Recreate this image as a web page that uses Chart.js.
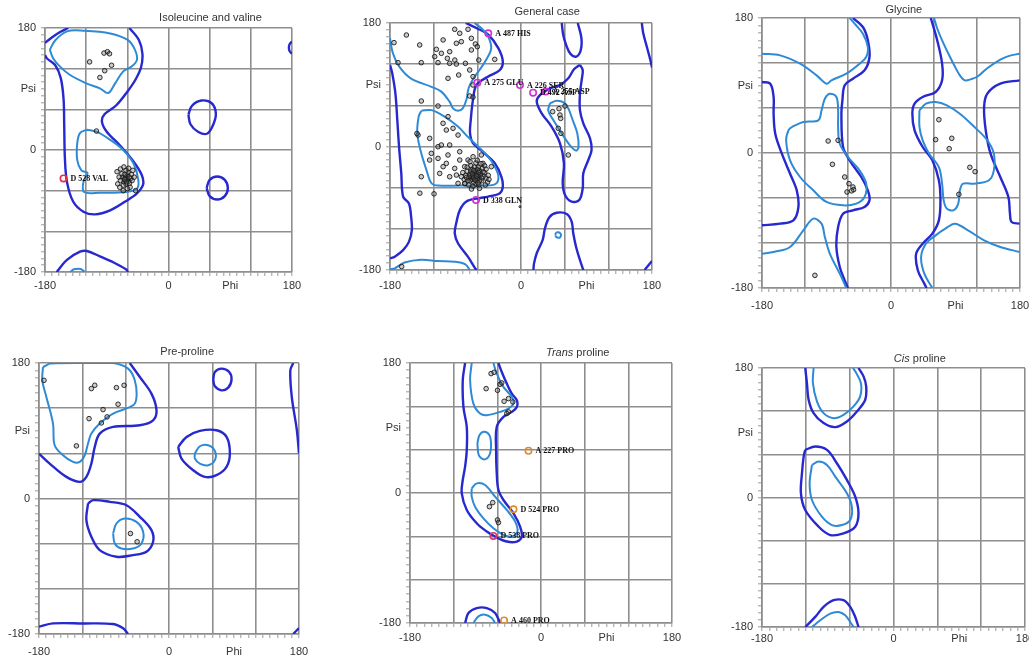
<!DOCTYPE html>
<html><head><meta charset="utf-8">
<script src="https://cdn.jsdelivr.net/npm/chart.js@4.4.1/dist/chart.umd.min.js"></script>
<style>
html,body{margin:0;padding:0;background:#fff;overflow:hidden;width:1029px;height:658px;}
canvas{position:absolute;}
</style></head><body>
<script>
// ---------- axis ticks ----------
const tickValues = [-180,-170,-160,-150,-140,-130,-120,-110,-100,-90,-80,-70,-60,-50,-40,-30,-20,-10,0,10,20,30,40,50,60,70,80,90,100,110,120,130,140,150,160,170,180];
const xLabelValues = [-180, 0, 90, 180];
const xLabelTexts = ['-180', '0', 'Phi', '180'];
const yLabelValues = [180, 90, 0, -180];
const yLabelTexts = ['180', 'Psi', '0', '-180'];
const panelTitles = ['Isoleucine and valine', 'General case', 'Glycine', 'Pre-proline', 'Trans proline', 'Cis proline'];

// ---------- Panel 1: Isoleucine and valine ----------
const ileOuterMain = [[-180,140],[-177,135],[-165,125],[-157,106],[-153,76],[-152,37],[-151,-12],[-148,-47],[-139,-76],[-124,-91],[-107,-95],[-85,-89],[-63,-76],[-46,-64],[-37,-51],[-39,-37],[-51,-17],[-71,7],[-90,27],[-97,42],[-93,53],[-76,66],[-60,86],[-48,104],[-40,122],[-38,142],[-43,162],[-57,180]];
const ileOuterCorner = [[-146,180],[-158,174],[-170,166],[-180,158]];
const ileOuterEdge = [[180,160],[176.5,156],[175.5,151],[176.5,146],[180,142]];
const ileOuterLoopA = [[29,52],[34,65],[48,73],[63,69],[69,54],[65,37],[56,24],[43,27],[32,38],[29,52]];
const ileOuterLoopB = [[55.5,-56],[60,-44],[71,-39],[82,-44],[86.5,-56],[82,-68],[71,-73],[60,-68],[55.5,-56]];
const ileOuterBottom = [[-163,-180],[-148,-162],[-129,-150],[-119,-149],[-100,-157],[-80,-166],[-62,-176],[-59,-180]];
const ileInnerTop = [[-173,148],[-165,162],[-148,175],[-124,176],[-85,172],[-59,162],[-49,148],[-46,133],[-54,123],[-66,116],[-78,98],[-88,84],[-100,91],[-119,98],[-144,111],[-158,123],[-168,135],[-173,148]];
const ileInnerMid = [[-119,30],[-129,25],[-133,10],[-133,-15],[-127,-30],[-118,-34],[-124,-47],[-123,-62],[-100,-63],[-61,-62],[-46,-57],[-44,-44],[-51,-20],[-66,0],[-85,15],[-105,27],[-119,30]];
const ileInnerBottom = [[-143,-180],[-138,-176],[-128,-175.5],[-122,-180]];
const ilePoints = [[-115,130],[-100,107],[-93,117],[-83,125],[-94,143],[-89,145],[-86,142],[-105,28],
 [-61,-44],[-63,-41],[-58,-46],[-65,-47],[-60,-38],[-55,-42],[-67,-40],[-62,-50],[-57,-49],[-64,-36],[-70,-45],[-53,-45],[-59,-33],[-68,-35],[-66,-52],[-56,-55],[-72,-40],[-50,-40],[-62,-30],[-54,-36],[-75,-32],[-70,-28],[-65,-25],[-58,-27],[-52,-30],[-48,-60],[-66,-60],[-60,-57],[-74,-50],[-71,-55],[-63,-44],[-60,-42],[-61,-47],[-57,-40],[-64,-43]];
const ileOutliers = [[-153,-42]];
const ileOutlierNames = ['D 528 VAL'];

// ---------- Panel 2: General case ----------
const genOuterLeft = [[-180,119],[-177,107],[-172.6,77.5],[-170,39],[-167.6,0],[-164.5,-39],[-162,-73],[-154,-83],[-151,-102],[-150,-122],[-154,-139],[-162,-151],[-173.5,-160.6],[-180,-163]];
const genOuterRight = [[-76,180],[-60,172],[-45,163],[-31,143],[-25,124],[-29,111.5],[-45,102],[-61,90],[-66,68],[-69,39],[-70,19],[-66,5],[-50,-10],[-36,-24.5],[-27,-44],[-25,-58.6],[-29,-68],[-45,-73],[-59,-75.5],[-75,-80],[-84,-92.5],[-89,-112],[-91,-126.5],[-86.6,-141],[-73,-160.6],[-63,-177.5],[-61,-180]];
const genOuterLoopR = [[81,119],[72.8,112.5],[65,99.4],[53.6,89.6],[39.8,84.8],[26,75],[21.6,65.3],[28.4,48.4],[42,29],[53.6,4.7],[59,-24.5],[57.3,-53.6],[60.5,-70.7],[69.6,-80.5],[80,-78],[84.8,-61],[85.6,-39],[92.5,-19.7],[97,-5],[94.8,12],[85.6,33.8],[81,53],[81,77.5],[83.4,97],[84.8,111.5],[81,119]];
const genOuterTopR = [[56,180],[58,163],[62,148],[68,135],[76,131],[82,140],[83,158],[78,180]];
const genOuterEdgeTop = [[166,180],[168,165],[173,145],[178,125],[180,115]];
const genOuterEdgeBottom = [[170,-180],[176,-172],[180,-167]];
const genOuterLowR = [[17,-180],[18,-170],[21.6,-155.6],[29.8,-136],[33,-119],[39,-103],[49,-96.5],[62.8,-98.4],[69.6,-109.6],[71.8,-126.5],[75.6,-146],[81,-165.4],[85.6,-180]];
const genInnerTop = [[-180,158],[-176,136],[-167,116],[-151,99],[-123,87],[-109.5,80],[-98,65],[-93.4,55.6],[-86.6,52],[-80,55.6],[-75,68],[-72,85],[-66,98],[-57,111.5],[-48,126],[-41,143],[-45,160],[-54,172],[-64,180]];
const genInnerLow = [[-137,52],[-123,53],[-105,43.5],[-86.6,29],[-73,14],[-59,0],[-45,-15],[-36,-29.5],[-31,-44],[-35,-54.7],[-50,-57],[-82,-57],[-114,-57],[-123,-53.6],[-130,-34],[-137,-10],[-142.5,19],[-140.6,43.5],[-137,52]];
const genInnerBottom = [[-180,-179],[-173.5,-177.5],[-160,-169],[-137,-165],[-114,-167],[-91,-168],[-76.5,-171.7],[-70.5,-180]];
const genInnerR = [[39.8,63],[37.5,52],[44.4,38.6],[56,19],[67,2],[75.6,-6],[79,-1],[77.4,19],[71,38.6],[65,55.6],[59,64],[49,66.5],[39.8,63]];
const genInnerSmall = [[47,-129],[48.5,-125.5],[51,-125],[53.5,-126],[55,-129],[53.5,-132.5],[51,-133],[48.5,-132],[47,-129]];
const genPoints = [[-157.5,162.5],[-174.5,151.4],[-139.2,148],[-169,122.2],[-137,122.2],[-116.3,141.6],[-118.6,131],[-109.4,135.8],[-98,138.2],[-101.2,128.5],[-88.8,150.4],[-82,152.8],[-84.2,165],[-91.1,170.8],[-72.8,170.8],[-68.2,140.7],[-62.7,149.4],[-60,145.5],[-68.2,157.7],[-107,155.3],[-114,122.2],[-98,121.2],[-91,126],[-88.8,120.2],[-76.4,121.2],[-58,126],[-100.3,99.4],[-85.6,104.2],[-65.9,101.8],[-70.5,111.5],[-137,66.3],[-114,59],[-70.5,73.6],[-36.1,127],[-66,89.6],
 [-100.3,43.5],[-107.1,33.8],[-102.6,24],[-93.4,26.5],[-86.5,16.7],[-141.5,16.7],[-125.5,11.9],[-114,-0.3],[-109.4,2.2],[-98,2.2],[-123.2,-10],[-100.3,-12.4],[-114,-17.3],[-84.2,-7.6],[-102.6,-24.6],[-91.1,-31.9],[-98,-44],[-88.8,-41.6],[-86.5,-53.7],[-77.4,-53.7],[-84.2,-19.7],[-72.8,-19.7],[-65.9,-14.9],[-77.4,-29.4],[-54.5,-12.4],[-52.2,-24.6],[-40.8,-29.4],[-137,-44],[-111.7,-39.2],[-107,-29.4],[-125.5,-19.7],
 [-63,-40],[-60,-42],[-66,-38],[-58,-45],[-68,-44],[-62,-36],[-55,-40],[-70,-40],[-64,-47],[-57,-35],[-61,-50],[-67,-33],[-72,-46],[-52,-44],[-59,-30],[-65,-52],[-74,-36],[-54,-50],[-69,-28],[-50,-38],[-62,-44],[-64,-41],[-61,-39],[-66,-43],[-59,-41],[-63,-37],[-60,-47],[-67,-48],[-56,-42],[-70,-50],[-76,-42],[-48,-46],[-62,-55],[-58,-56],[-72,-56],[-53,-32],[-64,-30],[-78,-48],[-46,-52],[-66,-58],[-55,-25],[-62,-24],[-70,-22],[-50,-28],[-45,-42],[-80,-38],[-74,-30],[-57,-61],[-68,-62],[-77,-54],[-49,-56],[-60,-34],[-65,-45],[-58,-38],[-69,-36],[-54,-46],[-71,-43],[-63,-49],[-61,-43],[-57,-50],[-73,-50],[-65,-35],[-67,-40],[-59,-53],[-52,-37],[-75,-45],[-60,-20],[-48,-33],[-44,-48],[-82,-44],
 [-139,-68],[-119.5,-69],[-164,-175],[-143,19],[-66,72],
 [43.5,50.8],[52.2,55.1],[53.5,45.9],[54.5,41],[60.4,59],[51.2,26.5],[54.9,19.2],[65,-12.4]];
const genTinyPoints = [[-1.4,-87.7]];
const genOutliers = [[-45,165],[-60,93],[-1.4,89.6],[16.6,78.4],[34,80],[-61.8,-78]];
const genOutlierNames = ['A 487 HIS','A 275 GLU','A 226 SER','D 492 ASP','A 255 ASP','D 338 GLN'];

// ---------- Panel 3: Glycine ----------
const glyLightA = [[-180,132.4],[-154.6,130.2],[-126.9,119.1],[-103.8,103.5],[-90,92.4],[-83.1,96.9],[-62.3,105.8],[-43.9,119.1],[-34.6,128],[-32.3,141.3],[-39.2,159.1],[-50.8,172.4],[-57.7,180]];
const glyDarkA = [[-53.1,180],[-39.2,168],[-32.3,150.2],[-30,128],[-36.9,110.2],[-53.1,99.1],[-64.6,90.2],[-67.8,70.2],[-69.2,52.4],[-66.9,8],[-57.7,-9.8],[-41.5,-32],[-32.3,-49.8],[-30,-63.1],[-36.9,-72],[-53.1,-76.4],[-66.9,-80.9],[-73.8,-98.7],[-76.2,-125.3],[-71.5,-152],[-64.6,-169.8],[-60,-180]];
const glyLightB = [[-138.5,34.7],[-122.3,41.3],[-101.5,43.6],[-96.9,56.9],[-92.3,72.4],[-85.4,79.1],[-76.2,74.7],[-73.8,56.9],[-73.8,34.7],[-71.5,12.4],[-60,-5.3],[-43.9,-23.1],[-34.6,-40.9],[-36.9,-58.7],[-48.5,-67.5],[-66.9,-69.8],[-90,-65.3],[-108.5,-49.8],[-126.9,-32],[-140.8,-9.8],[-146.3,16.9],[-143.1,30.2],[-138.5,34.7]];
const glyDarkB = [[-180,94.7],[-168.5,92.4],[-163.8,74.7],[-163.8,52.4],[-161.5,25.8],[-152.3,-0.9],[-140.8,-27.6],[-131.5,-49.8],[-129.2,-72],[-136.2,-89.8],[-154.6,-94.2],[-180,-96.4]];
const glyLightC = [[-180,-134.2],[-163.8,-132],[-140.8,-125.3],[-122.3,-103.1],[-108.5,-87.5],[-96.9,-94.2],[-92.3,-112],[-85.4,-134.2],[-71.5,-160.9],[-62.3,-180]];
const glyLightD = [[60,180],[64.5,166],[71.3,150.2],[80.3,132],[89.3,115],[96.1,103.5],[102.9,96.9],[111.9,98.5],[120.9,102],[134.4,113],[152.5,124.5],[165,129.5],[179.5,132.4]];
const glyDarkC = [[55.5,180],[64.5,150.2],[71.3,119.1],[71.3,96.9],[62.3,81.3],[44.2,74.7],[32.9,65.8],[29.8,52.4],[32.9,30.2],[44.2,8],[57.7,-9.8],[66.8,-36.4],[69,-63.1],[66.8,-89.8],[57.7,-107.5],[44.2,-120.9],[35.1,-134.2],[37.4,-156.4],[46.5,-174.2],[49.6,-180]];
const glyLightE = [[39.7,56.9],[48.7,65.8],[62.3,68],[78,63.6],[96.1,52.4],[116.4,34.7],[134.4,16.9],[143.5,-0.9],[143.5,-23.1],[136.7,-36.4],[116.4,-40.9],[100.6,-40.9],[96.1,-49.8],[93.8,-67.5],[87.1,-76.4],[78,-74.2],[73.5,-63.1],[71.3,-40.9],[66.8,-18.7],[53.2,-0.9],[44.2,16.9],[39.7,34.7],[39.7,56.9]];
const glyDarkD = [[179.5,96.9],[152.5,92.4],[134.4,79.1],[129.9,61.3],[132.2,30.2],[138.9,-0.9],[152.5,-32],[163.8,-58.7],[166,-80.9],[168.3,-92],[179.5,-94.2]];
const glyLightF = [[57.7,-180],[46.5,-160.9],[42,-138.7],[48.7,-120.9],[62.3,-109.8],[75.8,-100.9],[89.3,-94.2],[107.4,-103.1],[129.9,-116.4],[152.5,-125.3],[179.5,-132]];
const glyPoints = [[-87.7,16],[-73.8,16.9],[-81.7,-15.1],[-64.6,-32],[-58.6,-40.9],[-53.1,-45.3],[-52.2,-48.9],[-61.4,-52],[-55,-50.5],[-106.2,-163.1],[66.8,44.4],[62.3,17.8],[84.8,19.6],[81.2,5.8],[110,-19.1],[117.3,-24.9],[94.7,-55.1]];

// ---------- Panel 4: Pre-proline ----------
const preLightA = [[-174.5,174.7],[-162.9,179.5],[-119,180],[-77.4,180],[-56.6,172.5],[-47.4,157],[-45,134.9],[-49.7,123.8],[-77.4,112.8],[-95.9,99.5],[-107.5,86.2],[-112.1,73],[-116.7,57.5],[-123.6,48.6],[-132.9,48.6],[-146.7,57.5],[-158.3,70.8],[-160.6,99.5],[-169.8,134.9],[-175.4,157],[-174.5,174.7]];
const preDarkA = [[-54.3,180],[-40.4,161.4],[-24.3,139.3],[-17.3,117.2],[-22,103.9],[-40.4,97.3],[-77.4,95.1],[-95.9,86.2],[-102.8,68.5],[-107.5,46.4],[-114.4,28.7],[-123.6,22.1],[-142.1,28.7],[-165.2,46.4],[-180,59.7]];
const preDarkEdge = [[172,180],[168,170],[170,135],[177,91],[180,60]];
const preDarkCorner = [[172,-180],[180,-172]];
const preDarkBottom = [[-180,-170.3],[-160.6,-165.9],[-119,-166],[-77.4,-166.8],[-63.5,-172.5],[-56.6,-180]];
const preDarkMid = [[-112.1,-6.6],[-105.1,-2.2],[-82,-4.4],[-58.9,-8.9],[-40.4,-24.3],[-24.3,-42],[-22,-57.5],[-31.2,-70.8],[-49.7,-75.2],[-72.8,-77.4],[-95.9,-68.6],[-107.5,-50.9],[-114.4,-28.8],[-112.1,-6.6]];
const preLightMid = [[-77.4,-46.5],[-72.8,-33.2],[-61.2,-26.5],[-45.1,-31],[-35.8,-44.2],[-38.1,-59.7],[-49.7,-66.4],[-65.9,-66.4],[-75.1,-59.7],[-77.4,-46.5]];
const preDarkRight = [[12.7,68.5],[24.3,81.8],[42.7,89.8],[65.8,90.7],[79.7,81.8],[84.3,59.7],[79.7,42],[65.8,31],[49.7,28.7],[33.5,37.6],[17.3,53.1],[12.7,68.5]];
const preLightRight = [[35.8,59.7],[42.7,69.4],[54.3,70.8],[63.5,63.2],[63.5,50.9],[54.3,44.2],[42.7,46.4],[35.8,53.1],[35.8,59.7]];
const preDarkSmall = [[61.2,157.9],[63.5,168.1],[72.8,172.5],[83.4,168.1],[86.6,157.9],[82,147.3],[72.8,143.7],[63.5,149],[61.2,157.9]];
const prePoints = [[-173.1,157],[-107.5,146],[-102.8,150.4],[-72.8,147.3],[-62.2,150.4],[-70.5,125.2],[-91.3,118.1],[-85.7,108.4],[-110.7,106.1],[-93.6,100.4],[-128.2,69.9],[-53.4,-46.5],[-44.1,-57.5]];

// ---------- Panel 5: Trans proline ----------
const transDark = [[-104.3,180],[-107.5,156.1],[-106.6,119.2],[-102,91.6],[-102,59.4],[-104.3,36.4],[-107.5,18],[-108.9,-0.5],[-102,-23.5],[-88.3,-41.9],[-74.5,-53.4],[-63.1,-60.3],[-47,-67.2],[-33.2,-67.2],[-26.4,-60.3],[-28.7,-46.5],[-37.8,-28.1],[-51.6,-9.7],[-58.5,4.1],[-60.8,27.1],[-61.7,59.4],[-60.8,91.6],[-51.6,105.4],[-40.1,112.3],[-33.2,119.2],[-33.2,128.4],[-40.1,137.6],[-47,151.5],[-53.9,167.6],[-58.5,180]];
const transLightTop = [[-95.2,180],[-97.4,156.1],[-92.9,123.8],[-83.7,110],[-74.5,107.7],[-56.2,112.3],[-44.7,116.9],[-37.8,123.8],[-40.1,133],[-51.6,146.9],[-60.8,165.3],[-65.4,180]];
const transLightMid = [[-87.4,68.6],[-84.6,80.1],[-78.2,84.7],[-70.9,80.1],[-68.6,66.3],[-70.9,52.5],[-78.2,46.5],[-85.5,52.5],[-87.4,68.6]];
const transLightLow = [[-95.2,6.4],[-88.3,13.3],[-76.8,11],[-63.1,-5.1],[-47,-23.5],[-35.5,-39.6],[-32.3,-53.4],[-40.1,-60.3],[-51.6,-58],[-65.4,-48.8],[-79.1,-35],[-90.6,-18.9],[-95.2,-5.1],[-95.2,6.4]];
const transDarkBottom = [[-104.3,-180],[-99.7,-166.2],[-88.3,-159.3],[-74.5,-159.3],[-63.1,-166.2],[-56.2,-180]];
const transLightBottom = [[-92.9,-180],[-86,-170.8],[-76.8,-168.5],[-67.7,-173],[-63.1,-180]];
const transPoints = [[-68.6,165.3],[-64.4,167.1],[-75.4,144.5],[-59.8,142.2],[-56.2,150.5],[-53.9,152.4],[-50.7,127],[-44.7,130.7],[-38.7,126.1],[-44.7,112.3],[-47,110],[-70.9,-18.9],[-66.3,-13.3],[-59.8,-37.3],[-58.5,-41]];
const transOutliersOrange = [[-17.2,58.5],[-37.8,-22.6],[-50.7,-176.4]];
const transOrangeNames = ['A 227 PRO','D 524 PRO','A 460 PRO'];
const transOutliersRed = [[-65.4,-59.4]];
const transRedNames = ['D 538 PRO'];

// ---------- Panel 6: Cis proline ----------
const cisDarkTop = [[-120.8,180],[-118.5,159.1],[-116.2,135.9],[-109.4,117.3],[-95.7,103.4],[-79.7,97.8],[-63.8,105.7],[-50.1,119.6],[-38.7,135.9],[-37.4,154.5],[-41,168.4],[-47.9,180]];
const cisLightTop = [[-109.4,180],[-110.3,159.1],[-104.8,133.6],[-95.7,117.3],[-82,110.3],[-68.4,115],[-54.7,126.6],[-45.6,140.5],[-44.7,159.1],[-52.4,175.4],[-55.6,180]];
const cisDarkMid = [[-120.8,66.2],[-107.1,70.8],[-91.1,66.2],[-77.5,47.6],[-63.8,24.4],[-52.4,1.2],[-47.9,-22],[-52.4,-40.6],[-68.4,-49.9],[-86.6,-52.2],[-102.5,-40.6],[-120.8,-17.4],[-126.7,5.8],[-125.3,33.7],[-123,56.9],[-120.8,66.2]];
const cisLightMid = [[-111.6,45.3],[-102.5,49.9],[-91.1,45.3],[-79.7,29],[-63.8,5.8],[-57,-12.8],[-59.2,-31.3],[-70.6,-38.3],[-84.3,-38.3],[-98,-26.7],[-111.6,-3.5],[-114.8,19.7],[-111.6,45.3]];
const cisDarkBottom = [[-120.8,-180],[-107.1,-166],[-95.7,-152.1],[-82,-142.8],[-68.4,-142.8],[-59.2,-152.1],[-52.4,-166],[-47.9,-180]];
const cisLightBottom = [[-111.6,-180],[-100.2,-170.7],[-86.6,-161.4],[-75.2,-159.1],[-66.1,-163.7],[-59.2,-173],[-54.7,-180]];

// ---------- styling / layout ----------
const DARK = '#2828cf', LIGHT = '#2f8ad6', GRID = '#8e8e8e';
const FONT = '"Liberation Sans", Arial, sans-serif';

function contour(arr, color, w) {
  return {data: arr.map(p => ({x: p[0], y: p[1]})), showLine: true, borderColor: color, borderWidth: w,
    pointRadius: 0, pointHoverRadius: 0, tension: 0.35, fill: false};
}
function dots(arr, r) {
  return {data: arr.map(p => ({x: p[0], y: p[1]})), showLine: false, pointRadius: r || 2.3, pointBorderWidth: 0.9,
    pointBorderColor: '#1a1a1a', pointBackgroundColor: 'rgba(110,110,110,0.35)', pointHoverRadius: 0};
}
function outl(arr, color) {
  return {data: arr.map(p => ({x: p[0], y: p[1]})), showLine: false, pointRadius: 3.2, pointBorderWidth: 1.6,
    pointBorderColor: color, pointBackgroundColor: 'rgba(255,255,255,0)', pointHoverRadius: 0};
}
function names(arr, txt) { return arr.map((p, i) => ({x: p[0], y: p[1], t: txt[i]})); }

const panels = [
  {area: [45, 28, 292, 272], title: [[panelTitles[0], false]], tfrac: 0.67, tgap: 7, xgap: 3,
   sets: [outl(ileOutliers, '#e0304a'), dots(ilePoints),
     contour(ileInnerTop, LIGHT, 2), contour(ileInnerMid, LIGHT, 2), contour(ileInnerBottom, LIGHT, 2),
     contour(ileOuterMain, DARK, 2.4), contour(ileOuterCorner, DARK, 2.4), contour(ileOuterEdge, DARK, 2.4),
     contour(ileOuterLoopA, DARK, 2.4), contour(ileOuterLoopB, DARK, 2.4), contour(ileOuterBottom, DARK, 2.4)],
   labels: names(ileOutliers, ileOutlierNames)},
  {area: [390, 23, 652, 270], title: [[panelTitles[1], false]], tfrac: 0.60, tgap: 8, xgap: 5,
   sets: [outl(genOutliers, '#d030d0'), dots(genPoints), dots(genTinyPoints, 1),
     contour(genInnerTop, LIGHT, 2), contour(genInnerLow, LIGHT, 2), contour(genInnerBottom, LIGHT, 2),
     contour(genInnerR, LIGHT, 2), contour(genInnerSmall, LIGHT, 2),
     contour(genOuterLeft, DARK, 2.4), contour(genOuterRight, DARK, 2.4), contour(genOuterLoopR, DARK, 2.4),
     contour(genOuterTopR, DARK, 2.4), contour(genOuterEdgeTop, DARK, 2.4), contour(genOuterEdgeBottom, DARK, 2.4),
     contour(genOuterLowR, DARK, 2.4)],
   labels: names(genOutliers, genOutlierNames)},
  {area: [762, 18, 1020, 288], title: [[panelTitles[2], false]], tfrac: 0.55, tgap: 5, xgap: 7,
   sets: [dots(glyPoints),
     contour(glyLightA, LIGHT, 2), contour(glyLightB, LIGHT, 2), contour(glyLightC, LIGHT, 2),
     contour(glyLightD, LIGHT, 2), contour(glyLightE, LIGHT, 2), contour(glyLightF, LIGHT, 2),
     contour(glyDarkA, DARK, 2.4), contour(glyDarkB, DARK, 2.4), contour(glyDarkC, DARK, 2.4), contour(glyDarkD, DARK, 2.4)],
   labels: []},
  {area: [39, 363, 299, 634], title: [[panelTitles[3], false]], tfrac: 0.57, tgap: 8, xgap: 7,
   sets: [dots(prePoints),
     contour(preLightA, LIGHT, 2), contour(preLightMid, LIGHT, 2), contour(preLightRight, LIGHT, 2),
     contour(preDarkA, DARK, 2.4), contour(preDarkEdge, DARK, 2.4), contour(preDarkCorner, DARK, 2.4),
     contour(preDarkBottom, DARK, 2.4), contour(preDarkMid, DARK, 2.4), contour(preDarkRight, DARK, 2.4),
     contour(preDarkSmall, DARK, 2.4)],
   labels: []},
  {area: [410, 363, 672, 623], title: [['Trans', true], [' proline', false]], tfrac: 0.64, tgap: 7, xgap: 4,
   sets: [outl(transOutliersOrange, '#e08a2a'), outl(transOutliersRed, '#d23a6a'), dots(transPoints),
     contour(transLightTop, LIGHT, 2), contour(transLightMid, LIGHT, 2), contour(transLightLow, LIGHT, 2),
     contour(transLightBottom, LIGHT, 2),
     contour(transDark, DARK, 2.4), contour(transDarkBottom, DARK, 2.4)],
   labels: names(transOutliersOrange, transOrangeNames).concat(names(transOutliersRed, transRedNames))},
  {area: [762, 368, 1025, 627], title: [['Cis', true], [' proline', false]], tfrac: 0.60, tgap: 6, xgap: 1,
   sets: [contour(cisLightTop, LIGHT, 2), contour(cisLightMid, LIGHT, 2), contour(cisLightBottom, LIGHT, 2),
     contour(cisDarkTop, DARK, 2.4), contour(cisDarkMid, DARK, 2.4), contour(cisDarkBottom, DARK, 2.4)],
   labels: []}
];

const titlePlugin = {
  id: 'ptitle',
  afterDraw(chart, args, opts) {
    const {ctx, chartArea: a} = chart;
    ctx.save();
    ctx.fillStyle = '#333';
    ctx.textBaseline = 'alphabetic';
    let total = 0;
    opts.parts.forEach(p => { ctx.font = (p[1] ? 'italic ' : '') + '11px ' + FONT; total += ctx.measureText(p[0]).width; });
    let x = a.left + opts.frac * (a.right - a.left) - total / 2;
    const y = a.top - opts.gap;
    opts.parts.forEach(p => { ctx.font = (p[1] ? 'italic ' : '') + '11px ' + FONT; ctx.fillText(p[0], x, y); x += ctx.measureText(p[0]).width; });
    ctx.restore();
  }
};
const labelPlugin = {
  id: 'olabels',
  afterDatasetsDraw(chart, args, opts) {
    const {ctx} = chart;
    const xs = chart.scales.x, ys = chart.scales.y;
    ctx.save();
    ctx.font = 'bold 8px "Liberation Serif", "Times New Roman", serif';
    ctx.fillStyle = '#111';
    ctx.textBaseline = 'middle';
    opts.items.forEach(it => {
      ctx.fillText(it.t, xs.getPixelForValue(it.x) + 7, ys.getPixelForValue(it.y) + 0.5);
    });
    ctx.restore();
  }
};

function labelFor(vals, texts, v) { const i = vals.indexOf(v); return i >= 0 ? texts[i] : ''; }

panels.forEach(p => {
  const [l, t, r, b] = p.area;
  const YW = 46, TOP = 24, XH = 26;
  const padR = Math.min(14, 1029 - r);
  const cv = document.createElement('canvas');
  cv.width = (r - l) + YW + padR;
  cv.height = (b - t) + TOP + XH;
  cv.style.left = (l - YW) + 'px';
  cv.style.top = (t - TOP) + 'px';
  document.body.appendChild(cv);
  const gridOpts = {
    color: c => (c.tick && c.tick.value % 60 === 0) ? GRID : 'rgba(0,0,0,0)',
    lineWidth: 1.6, tickColor: '#9a9a9a', tickLength: 4, tickWidth: 1
  };
  new Chart(cv, {
    type: 'scatter',
    data: {datasets: p.sets},
    plugins: [titlePlugin, labelPlugin],
    options: {
      responsive: false, animation: false, devicePixelRatio: 1,
      events: [],
      layout: {padding: {top: TOP, right: padR, left: 0, bottom: 0}},
      plugins: {legend: {display: false}, tooltip: {enabled: false},
        ptitle: {parts: p.title, frac: p.tfrac, gap: p.tgap},
        olabels: {items: p.labels}},
      scales: {
        x: {type: 'linear', min: -180, max: 180,
          afterBuildTicks: s => { s.ticks = tickValues.map(v => ({value: v})); },
          afterFit: s => { s.height = XH; s.paddingLeft = 0; s.paddingRight = 0; },
          ticks: {autoSkip: false, maxRotation: 0, minRotation: 0, padding: p.xgap, color: '#333',
            font: {family: FONT, size: 11}, callback: v => labelFor(xLabelValues, xLabelTexts, v)},
          grid: gridOpts, border: {display: true, color: GRID, width: 1.6}},
        y: {type: 'linear', min: -180, max: 180,
          afterBuildTicks: s => { s.ticks = tickValues.map(v => ({value: v})); },
          afterFit: s => { s.width = YW; s.paddingTop = 0; s.paddingBottom = 0; },
          ticks: {autoSkip: false, padding: 5, color: '#333',
            font: {family: FONT, size: 11}, callback: v => labelFor(yLabelValues, yLabelTexts, v)},
          grid: gridOpts, border: {display: true, color: GRID, width: 1.6}}
      }
    }
  });
});
</script>
</body></html>
